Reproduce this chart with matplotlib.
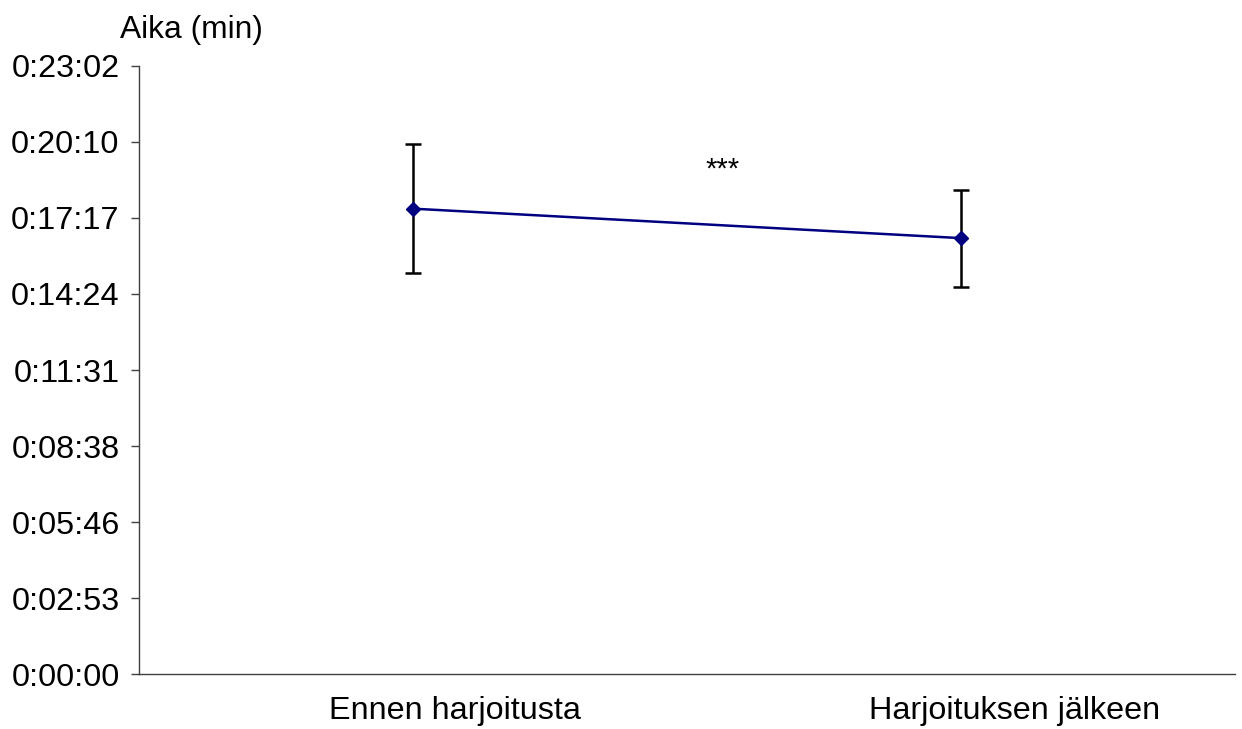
import matplotlib
matplotlib.use("Agg")
import matplotlib.pyplot as plt
import matplotlib.transforms as mtransforms
from matplotlib.ticker import FixedLocator, FuncFormatter

plt.rcParams['font.family'] = ['Liberation Sans', 'DejaVu Sans']

# data (seconds)
categories = ["Ennen harjoitusta", "Harjoituksen jälkeen"]
means = [1058, 991]
errors = [146, 110]
y_step = 172.8          # 0.002 days, Excel major unit
y_max = 1382.4
label_shift_px = [42, 54]


def hms(v, pos=None):
    s = int(round(v))
    return "%d:%02d:%02d" % (s // 3600, (s % 3600) // 60, s % 60)


fig = plt.figure(figsize=(12.42, 7.29), dpi=100)
ax = fig.add_axes([0.1119, 0.0754, 0.9944 - 0.1119, 0.9095 - 0.0754])

xs = [i + 0.5 for i in range(len(categories))]
ax.errorbar(xs, means, yerr=errors, fmt="none", ecolor="black",
            elinewidth=1.8, capsize=6, capthick=1.8, zorder=2)
ax.plot(xs, means, color="#000080", lw=1.8, marker="D", ms=7,
        mfc="#000080", mec="#000080", zorder=3)

ax.text(1.064, 1146, "***", ha="center", va="center", fontsize=21)

ax.set_xlim(0, len(categories))
ax.set_ylim(0, y_max)
ax.yaxis.set_major_locator(FixedLocator([i * y_step for i in range(9)]))
ax.yaxis.set_major_formatter(FuncFormatter(hms))
ax.set_xticks(xs)
ax.set_xticklabels(categories)

for sp in ["top", "right"]:
    ax.spines[sp].set_visible(False)
for sp in ["left", "bottom"]:
    ax.spines[sp].set_color("#404040")
    ax.spines[sp].set_linewidth(1.0)

ax.tick_params(axis="y", direction="out", length=6, width=1, color="#404040",
               labelsize=23.3, pad=8)
ax.tick_params(axis="x", length=0, labelsize=23.3, pad=16)

for lbl, dx in zip(ax.get_xticklabels(), label_shift_px):
    lbl.set_transform(lbl.get_transform() +
                      mtransforms.ScaledTranslation(dx / 100, 0, fig.dpi_scale_trans))

fig.text(120 / 1242, 1 - 30 / 729, "Aika (min)", ha="left", va="center", fontsize=22.9)

fig.savefig("out.png", dpi=100)
